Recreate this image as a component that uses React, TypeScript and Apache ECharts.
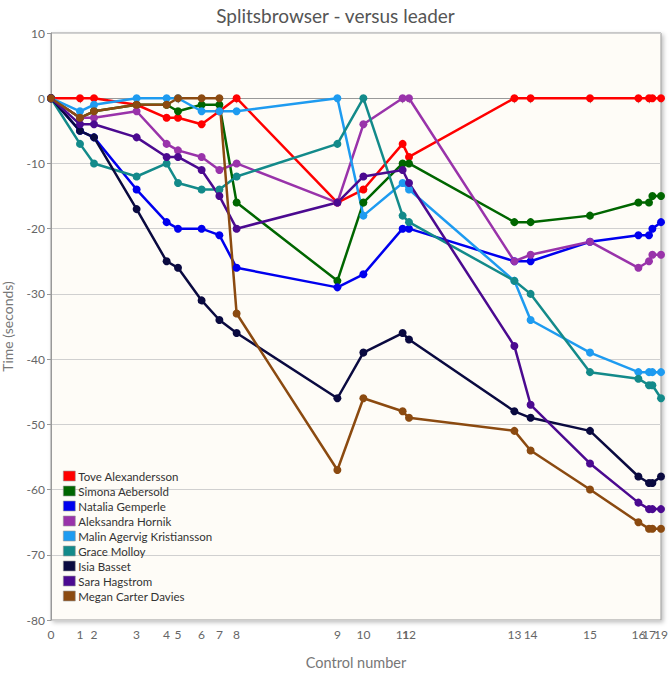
import React, { useEffect, useRef } from "react";
import * as echarts from "echarts";

const controlLabels = ["0","1","2","3","4","5","6","7","8","9","10","11","12","13","14","15","16","17","18","19"];
// reference (leader) cumulative time at each control, seconds
const controlTimes = [0,145,215,428,578,635,753,842,928,1432,1562,1758,1790,2317,2398,2695,2937,2990,3007,3050];

const runnerNames = [
  "Tove Alexandersson",
  "Simona Aebersold",
  "Natalia Gemperle",
  "Aleksandra Hornik",
  "Malin Agervig Kristiansson",
  "Grace Molloy",
  "Isia Basset",
  "Sara Hagstrom",
  "Megan Carter Davies",
];

const tove = [0,0,0,-1,-3,-3,-4,-2,0,-16,-14,-7,-9,0,0,0,0,0,0,0];
const simona = [0,-3,-2,-1,-1,-2,-1,-1,-16,-28,-16,-10,-10,-19,-19,-18,-16,-16,-15,-15];
const natalia = [0,-5,-6,-14,-19,-20,-20,-21,-26,-29,-27,-20,-20,-25,-25,-22,-21,-21,-20,-19];
const aleksandra = [0,-3,-3,-2,-7,-8,-9,-11,-10,-16,-4,0,0,-25,-24,-22,-26,-25,-24,-24];
const malin = [0,-2,-1,0,0,0,-2,-2,-2,0,-18,-13,-14,-28,-34,-39,-42,-42,-42,-42];
const grace = [0,-7,-10,-12,-10,-13,-14,-14,-12,-7,0,-18,-19,-28,-30,-42,-43,-44,-44,-46];
const isia = [0,-5,-6,-17,-25,-26,-31,-34,-36,-46,-39,-36,-37,-48,-49,-51,-58,-59,-59,-58];
const sara = [0,-4,-4,-6,-9,-9,-11,-15,-20,-16,-12,-11,-13,-38,-47,-56,-62,-63,-63,-63];
const megan = [0,-3,-2,-1,-1,0,0,0,-33,-57,-46,-48,-49,-51,-54,-60,-65,-66,-66,-66];

const runnerValues = [tove, simona, natalia, aleksandra, malin, grace, isia, sara, megan];
const runnerColors = ["#ff0000","#006600","#0000ee","#9933aa","#1e9bf0","#138a8a","#0a0a40","#4b0a90","#8b4a10"];

const FONT = "Lato, 'Open Sans', sans-serif";

export default function App() {
  const ref = useRef<HTMLDivElement>(null);
  useEffect(() => {
    if (!ref.current) return;
    const chart = echarts.init(ref.current, null, { renderer: "svg" });
    const series = runnerNames.map((name, i) => ({
      name,
      type: "line",
      data: controlTimes.map((t, j) => [t, runnerValues[i][j]]),
      symbol: "circle",
      symbolSize: 8,
      lineStyle: { width: 2.5, color: runnerColors[i] },
      itemStyle: { color: runnerColors[i] },
      emphasis: { disabled: true },
    }));
    chart.setOption({
      animation: false,
      backgroundColor: "#ffffff",
      textStyle: { fontFamily: FONT },
      title: {
        text: "Splitsbrowser - versus leader",
        left: "center",
        top: 1,
        textStyle: { fontFamily: FONT, fontSize: 19, fontWeight: "normal", color: "#555" },
      },
      legend: {
        orient: "vertical",
        left: 58,
        top: 465,
        icon: "rect",
        itemWidth: 12,
        itemHeight: 10,
        itemGap: 3,
        textStyle: { fontFamily: FONT, fontSize: 11.5, color: "#333", padding: [0, 0, 0, -2] },
        itemStyle: { borderColor: "#999", borderWidth: 0.6 },
        data: runnerNames,
      },
      grid: {
        left: 51,
        right: 10,
        top: 33,
        bottom: 60,
        outerBoundsMode: "none",
        containLabel: false,
        show: true,
        backgroundColor: "#fefcf7",
        borderColor: "#999",
        borderWidth: 1,
        shadowColor: "rgba(0,0,0,0.25)",
        shadowBlur: 4,
        shadowOffsetX: 2,
        shadowOffsetY: 2,
      },
      xAxis: {
        type: "value",
        min: 0,
        max: controlTimes[controlTimes.length - 1],
        name: "Control number",
        nameLocation: "middle",
        nameGap: 35,
        nameTextStyle: { fontFamily: FONT, fontSize: 14.5, color: "#777" },
        axisLine: { show: true, lineStyle: { color: "#999" } },
        axisTick: { show: true, customValues: controlTimes, length: 5, lineStyle: { color: "#999" } },
        axisLabel: {
          customValues: controlTimes,
          formatter: (v: number) => {
            const k = controlTimes.indexOf(v);
            return k >= 0 ? controlLabels[k] : "";
          },
          color: "#666",
          fontFamily: FONT,
          fontSize: 12,
          margin: 8,
          hideOverlap: false,
          showMinLabel: true,
          showMaxLabel: true,
        },
        splitLine: { show: false },
      },
      yAxis: {
        type: "value",
        min: -80,
        max: 10,
        interval: 10,
        name: "Time (seconds)",
        nameLocation: "middle",
        nameGap: 37,
        nameTextStyle: { fontFamily: FONT, fontSize: 14, color: "#777" },
        axisLine: { show: true, lineStyle: { color: "#999" } },
        axisTick: { show: true, inside: false, length: 4, lineStyle: { color: "#999" } },
        axisLabel: { color: "#666", fontFamily: FONT, fontSize: 12, margin: 6 },
        splitLine: { show: true, lineStyle: { color: "#d0d0d0", width: 1 } },
      },
      series,
    });
    return () => chart.dispose();
  }, []);
  return (
    <div
      ref={ref}
      style={{ position: "absolute", left: 0, top: 0, width: 671, height: 680 }}
    />
  );
}
